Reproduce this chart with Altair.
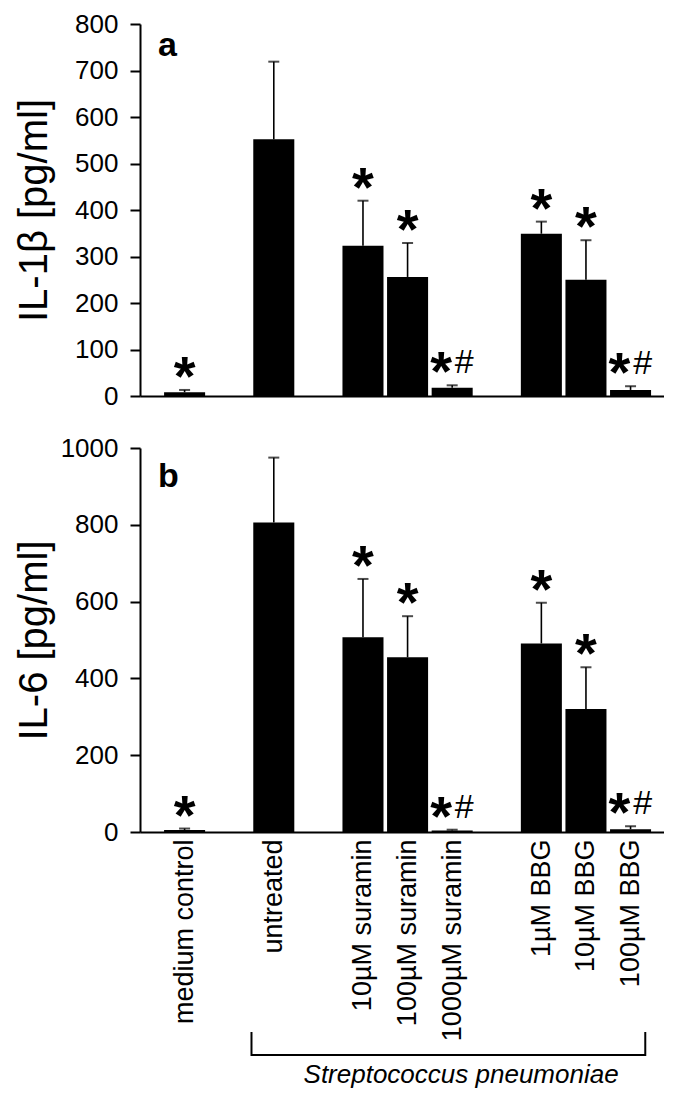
import altair as alt
import pandas as pd

# ---- data ----
categories = ["medium control", "untreated", "10µM suramin", "100µM suramin",
              "1000µM suramin", "1µM BBG", "10µM BBG", "100µM BBG"]
positions = [0, 2, 4, 5, 6, 8, 9, 10]
il1b_mean = [8, 552, 323, 256, 18, 349, 250, 13]
il1b_err = [5, 167, 97, 73, 5, 26, 85, 8]
il6_mean = [5, 806, 507, 455, 4, 491, 320, 7]
il6_err = [4, 169, 152, 107, 2, 106, 109, 8]
stars = ["*", "", "*", "*", "*", "*", "*", "*"]
hashes = ["", "", "", "", "#", "", "", "#"]
bracket_label = "Streptococcus pneumoniae"

FONT = "Liberation Sans"
HALF_W = 0.46
W = 524
x_scale = alt.Scale(domain=[-1, 10.75], nice=False, zero=False)


def make_df(means, errs):
    rows = []
    for c, p, m, e, s, h in zip(categories, positions, means, errs, stars, hashes):
        rows.append(dict(cat=c, pos=p, left=p - HALF_W, right=p + HALF_W,
                         base=0, mean=m, top=m + e, star=s, hash=h,
                         star_x=(p - 0.25) if h else p, hash_x=p + 0.27))
    return pd.DataFrame(rows)


labels_js = "[" + ",".join("'" + c + "'" for c in categories) + "]"
pos_js = "[" + ",".join(str(p) for p in positions) + "]"
label_expr = labels_js + "[indexof(" + pos_js + ", datum.value)]"


def panel(means, errs, ymax, ystep, height, ytitle, letter, letter_y, bottom):
    df = make_df(means, errs)
    y_scale = alt.Scale(domain=[0, ymax], nice=False)
    if bottom:
        x_axis = alt.Axis(values=positions, labelExpr=label_expr, labelAngle=270,
                          labelAlign="right", labelBaseline="middle", labelPadding=7,
                          ticks=False, labelFontSize=27, labelOverlap=False,
                          labelLimit=400, labelFlush=False, title=None,
                          labelColor="black", minExtent=0)
    else:
        x_axis = alt.Axis(labels=False, ticks=False, title=None, minExtent=0,
                          maxExtent=0)
    y_axis = alt.Axis(values=list(range(0, ymax + 1, ystep)), format="d", title=ytitle,
                      titleX=-86, titleFontSize=40, titleFontWeight="normal",
                      titleColor="black", labelFontSize=26, labelColor="black",
                      tickSize=10, labelPadding=12, grid=False, minExtent=0)
    base = alt.Chart(df)
    bars = base.mark_bar(color="black").encode(
        x=alt.X("left:Q", scale=x_scale, axis=x_axis), x2="right:Q",
        y=alt.Y("mean:Q", scale=y_scale, axis=y_axis), y2="base:Q")
    err = base.mark_rule(color="black", strokeWidth=1.6).encode(
        x="pos:Q", y="mean:Q", y2="top:Q")
    cap = base.mark_tick(color="black", orient="horizontal", size=11, thickness=2).encode(
        x="pos:Q", y="top:Q")
    star = base.transform_filter("datum.star != ''").mark_text(
        fontSize=56, fontWeight="bold", baseline="alphabetic", dy=5, color="black",
        font=FONT).encode(x="star_x:Q", y="top:Q", text="star:N")
    hsh = base.transform_filter("datum.hash != ''").mark_text(
        fontSize=34, baseline="alphabetic", dy=-12, color="black",
        font=FONT).encode(x="hash_x:Q", y="top:Q", text="hash:N")
    let = alt.Chart(pd.DataFrame({"t": [letter]})).mark_text(
        fontSize=34, fontWeight="bold", align="left", baseline="alphabetic",
        color="black", font=FONT).encode(x=alt.value(18), y=alt.value(letter_y), text="t:N")
    layers = [bars, err, cap, star, hsh, let]
    if bottom:
        bdf = pd.DataFrame({"x0": [positions[1] - 0.5], "x1": [positions[-1] + 0.33],
                            "xm": [positions[4] + 0.2], "t": [bracket_label]})
        bc = alt.Chart(bdf)
        h_rule = bc.mark_rule(color="black", strokeWidth=2).encode(
            x="x0:Q", x2="x1:Q", y=alt.value(height + 223))
        l_rule = bc.mark_rule(color="black", strokeWidth=2).encode(
            x="x0:Q", y=alt.value(height + 200), y2=alt.value(height + 224))
        r_rule = bc.mark_rule(color="black", strokeWidth=2).encode(
            x="x1:Q", y=alt.value(height + 200), y2=alt.value(height + 224))
        sp = bc.mark_text(fontSize=26, fontStyle="italic", baseline="middle",
                          color="black", font=FONT).encode(
            x="xm:Q", y=alt.value(height + 243), text="t:N")
        layers += [h_rule, l_rule, r_rule, sp]
    return alt.layer(*layers).properties(width=W, height=height)


top = panel(il1b_mean, il1b_err, 800, 100, 372, "IL-1β [pg/ml]", "a", 32, False)
bot = panel(il6_mean, il6_err, 1000, 200, 384, "IL-6 [pg/ml]", "b", 39, True)

chart = alt.vconcat(top, bot, spacing=26).properties(
    padding={"left": 6, "top": 3, "right": 0, "bottom": 0}
).configure(font=FONT).configure_view(stroke=None).configure_axis(
    domainColor="black", domainWidth=2, tickColor="black", tickWidth=2,
    labelFont=FONT, titleFont=FONT, grid=False
)

chart.save("out.html", embed_options={"renderer": "svg", "actions": False})
